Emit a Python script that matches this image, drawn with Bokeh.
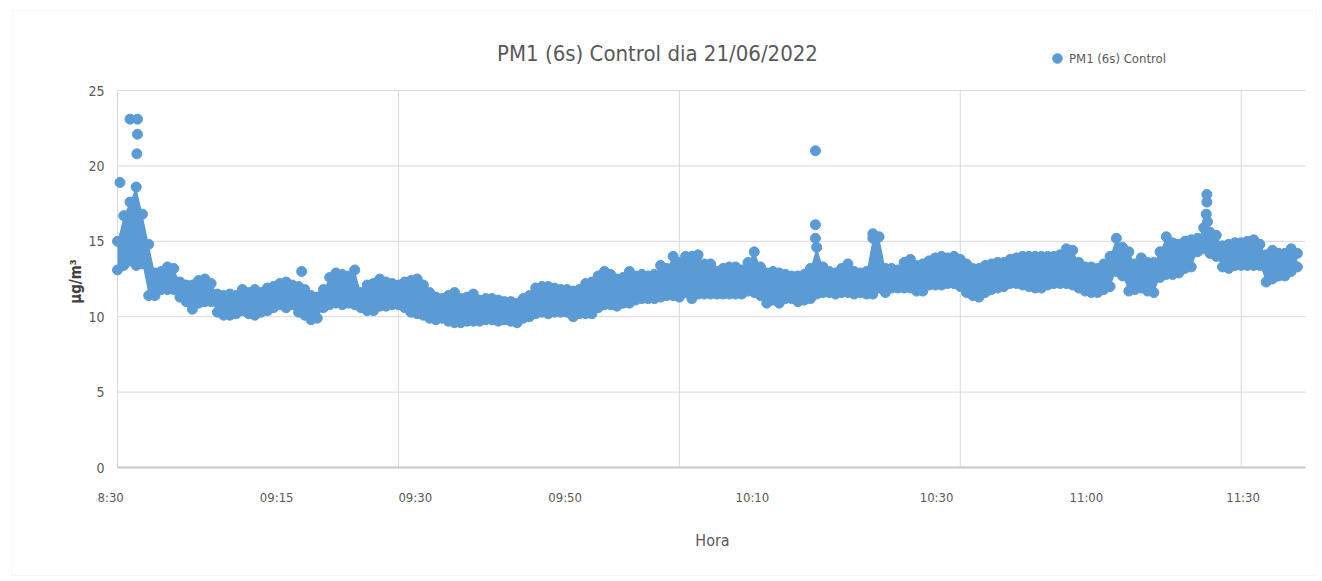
import math
from bokeh.plotting import figure
from bokeh.models import Range1d, Legend, LegendItem, Label, BoxAnnotation
from bokeh.core.properties import value
from bokeh.embed import file_html
from bokeh.resources import INLINE

# ---- data (minutes after 08:30, values in µg/m³) ----
minutes = list(range(190))

pm1_low = [
    13.1, 13.4, 13.7, 13.4, 13.5, 11.4, 11.4, 11.8, 11.8, 11.8,
    11.3, 11.0, 10.5, 10.9, 11.0, 11.0, 10.3, 10.1, 10.1, 10.2,
    10.4, 10.2, 10.1, 10.3, 10.4, 10.6, 10.8, 10.6, 10.8, 10.3,
    10.1, 9.8, 9.9, 10.6, 10.8, 10.9, 10.8, 10.9, 10.8, 10.6,
    10.4, 10.4, 10.7, 10.7, 10.8, 10.8, 10.6, 10.3, 10.2, 10.1,
    9.9, 9.8, 9.9, 9.7, 9.6, 9.6, 9.7, 9.7, 9.7, 9.8,
    9.8, 9.7, 9.8, 9.7, 9.6, 9.9, 10.0, 10.2, 10.3, 10.2,
    10.3, 10.3, 10.3, 10.0, 10.2, 10.2, 10.2, 10.6, 10.8, 10.8,
    10.7, 10.9, 10.9, 11.1, 11.2, 11.2, 11.2, 11.3, 11.4, 11.4,
    11.3, 11.6, 11.2, 11.5, 11.5, 11.5, 11.5, 11.5, 11.5, 11.5,
    11.5, 11.7, 11.6, 11.4, 10.9, 11.1, 10.9, 11.2, 11.2, 11.0,
    11.1, 11.2, 11.5, 11.6, 11.6, 11.5, 11.6, 11.6, 11.5, 11.6,
    11.5, 11.5, 11.9, 11.6, 11.9, 11.9, 11.9, 11.9, 11.7, 11.7,
    12.1, 12.1, 12.1, 12.2, 12.2, 12.0, 11.6, 11.4, 11.3, 11.6,
    11.8, 11.9, 12.0, 12.2, 12.2, 12.1, 12.0, 11.9, 11.9, 12.1,
    12.2, 12.2, 12.2, 12.1, 11.9, 11.7, 11.6, 11.6, 11.8, 12.0,
    13.0, 12.7, 11.7, 11.8, 11.9, 11.7, 11.6, 12.6, 12.8, 12.8,
    12.9, 13.2, 13.3, 14.3, 14.5, 14.2, 14.0, 13.3, 13.2, 13.4,
    13.4, 13.4, 13.4, 13.4, 12.3, 12.5, 12.7, 12.7, 13.0, 13.3,
]

pm1_high = [
    15.0, 16.7, 17.6, 18.6, 16.8, 14.8, 12.9, 13.0, 13.3, 13.2,
    12.3, 12.1, 12.1, 12.4, 12.5, 12.2, 11.5, 11.4, 11.5, 11.4,
    11.8, 11.6, 11.8, 11.6, 11.9, 12.0, 12.2, 12.3, 12.1, 12.0,
    11.8, 11.4, 11.3, 11.8, 12.6, 12.9, 12.8, 12.7, 13.1, 11.6,
    12.1, 12.2, 12.5, 12.3, 12.2, 12.1, 12.3, 12.4, 12.5, 12.1,
    11.6, 11.3, 11.2, 11.4, 11.6, 11.2, 11.3, 11.5, 11.1, 11.2,
    11.2, 11.1, 11.0, 11.0, 10.9, 11.2, 11.4, 11.9, 12.0, 12.0,
    11.9, 11.8, 11.8, 11.7, 11.8, 12.2, 12.3, 12.7, 13.0, 12.8,
    12.5, 12.6, 13.0, 12.7, 12.8, 12.7, 12.8, 13.4, 13.2, 14.0,
    13.6, 14.0, 14.0, 14.1, 13.5, 13.5, 13.0, 13.2, 13.3, 13.3,
    13.1, 13.6, 14.3, 13.3, 12.9, 13.0, 12.9, 12.8, 12.7, 12.7,
    12.8, 13.2, 14.6, 13.3, 13.0, 12.9, 13.2, 13.5, 13.0, 12.9,
    13.0, 15.2, 15.3, 13.2, 13.2, 13.1, 13.6, 13.8, 13.4, 13.5,
    13.7, 13.9, 14.0, 13.9, 14.0, 13.8, 13.5, 13.2, 13.2, 13.4,
    13.5, 13.6, 13.6, 13.8, 13.9, 14.0, 14.0, 14.0, 14.0, 14.0,
    14.0, 14.1, 14.5, 14.4, 13.6, 13.3, 13.3, 13.2, 13.5, 14.0,
    15.2, 14.6, 14.3, 13.5, 13.9, 13.6, 13.6, 14.3, 15.3, 14.9,
    14.8, 15.0, 15.1, 15.2, 15.9, 15.6, 15.4, 14.7, 14.8, 14.9,
    14.9, 15.0, 15.1, 14.8, 14.1, 14.4, 14.2, 14.2, 14.5, 14.2,
]

# isolated readings
peak_minutes = [0.4, 2.0, 3.2, 3.2, 3.1, 29.5, 111.8, 111.8, 111.8, 121.0, 174.5, 174.5, 174.4, 174.6]
peak_values = [18.9, 23.1, 23.1, 22.1, 20.8, 13.0, 21.0, 16.1, 15.2, 15.5, 18.1, 17.6, 16.8, 16.3]

# axis labels as printed on the chart
x_label_minutes = [-1.1, 25.5, 47.7, 71.7, 101.7, 131.2, 155.2, 180.3]
x_label_text = ["8:30", "09:15", "09:30", "09:50", "10:10", "10:30", "11:00", "11:30"]
x_grid_minutes = [0, 45, 90, 135, 180]
y_ticks = [0, 5, 10, 15, 20, 25]
y_tick_text = ["0", "5", "10", "15", "20", "25"]
x_end = 190.3   # right end of the plot area, minutes

FONT = "DejaVu Sans Condensed"
BLUE = "#5b9bd5"
TXT = "#595959"
GRID = "#d9d9d9"

# geometry (pixels): plot area x 117..1305, y 90 (25) .. 467 (0); the frame is the whole canvas
W, H = 1318, 577
X0_PX, XEND_PX, Y0_PX, Y25_PX = 117, 1305, 467, 90
ppm = (XEND_PX - X0_PX) / x_end
ppu = (Y0_PX - Y25_PX) / 25.0

def px_to_min(px):
    return (px - X0_PX) / ppm

def px_to_val(py):
    return (Y0_PX - py) / ppu

p = figure(width=W, height=H, output_backend="svg", toolbar_location=None,
           x_range=Range1d(px_to_min(0), px_to_min(W)),
           y_range=Range1d(px_to_val(H), px_to_val(0)),
           min_border_left=0, min_border_right=0, min_border_top=0, min_border_bottom=0)
p.outline_line_color = None
p.background_fill_color = "white"
p.border_fill_color = "white"
p.axis.visible = False
p.grid.visible = False

# chart area border
p.add_layout(BoxAnnotation(left=px_to_min(12), right=px_to_min(1316),
                           top=px_to_val(10), bottom=px_to_val(575),
                           fill_alpha=0, line_color="#e3e3e3", line_width=1))

# grid lines and axis line of the plot area
hy = y_ticks[1:]
p.segment(x0=[x_grid_minutes[0]] * len(hy), y0=hy, x1=[x_end] * len(hy), y1=hy,
          line_color=GRID, line_width=1)
p.segment(x0=x_grid_minutes, y0=[y_ticks[0]] * len(x_grid_minutes),
          x1=x_grid_minutes, y1=[y_ticks[-1]] * len(x_grid_minutes),
          line_color=GRID, line_width=1)
p.segment(x0=[x_grid_minutes[0]], y0=[y_ticks[0]], x1=[x_end], y1=[y_ticks[0]],
          line_color="#c8c8c8", line_width=2)

# band of readings + points
p.varea(x=minutes, y1=pm1_low, y2=pm1_high, fill_color=BLUE, fill_alpha=1.0)
p.scatter(x=minutes + minutes, y=pm1_low + pm1_high, size=10, marker="circle",
          fill_color=BLUE, line_color=BLUE)
r_pts = p.scatter(x=peak_minutes, y=peak_values, size=10, marker="circle",
                  fill_color=BLUE, line_color=BLUE)

# x axis labels
p.text(x=x_label_minutes, y=[px_to_val(497)] * len(x_label_minutes), text=x_label_text,
       text_font=value(FONT), text_font_size="13px", text_color=TXT,
       text_align="center", text_baseline="middle")
p.add_layout(Label(x=px_to_min(712), y=px_to_val(540), text="Hora",
                   text_font=FONT, text_font_size="16px", text_color=TXT,
                   text_align="center", text_baseline="middle"))

# y axis labels
p.text(x=[px_to_min(104)] * len(y_ticks), y=y_ticks, text=y_tick_text,
       text_font=value(FONT), text_font_size="14px", text_color=TXT,
       text_align="right", text_baseline="middle")
p.add_layout(Label(x=px_to_min(75), y=px_to_val(281), text="µg/m³", angle=math.pi / 2,
                   text_font=FONT, text_font_size="15px", text_font_style="bold",
                   text_color="#404040", text_align="center", text_baseline="middle"))

# title
p.add_layout(Label(x=px_to_min(657), y=px_to_val(53), text="PM1 (6s) Control dia 21/06/2022",
                   text_font=FONT, text_font_size="22px", text_color=TXT,
                   text_align="center", text_baseline="middle"))

legend = Legend(items=[LegendItem(label="PM1 (6s) Control", renderers=[r_pts])],
                location=(1045, H - 70), orientation="horizontal")
legend.glyph_width = 24
legend.glyph_height = 24
legend.label_standoff = 0
legend.padding = 0
legend.margin = 0
legend.border_line_color = None
legend.background_fill_alpha = 0
legend.label_text_font = FONT
legend.label_text_font_size = "13px"
legend.label_text_color = TXT
p.add_layout(legend)

open("out.html", "w").write(file_html(p, INLINE))
